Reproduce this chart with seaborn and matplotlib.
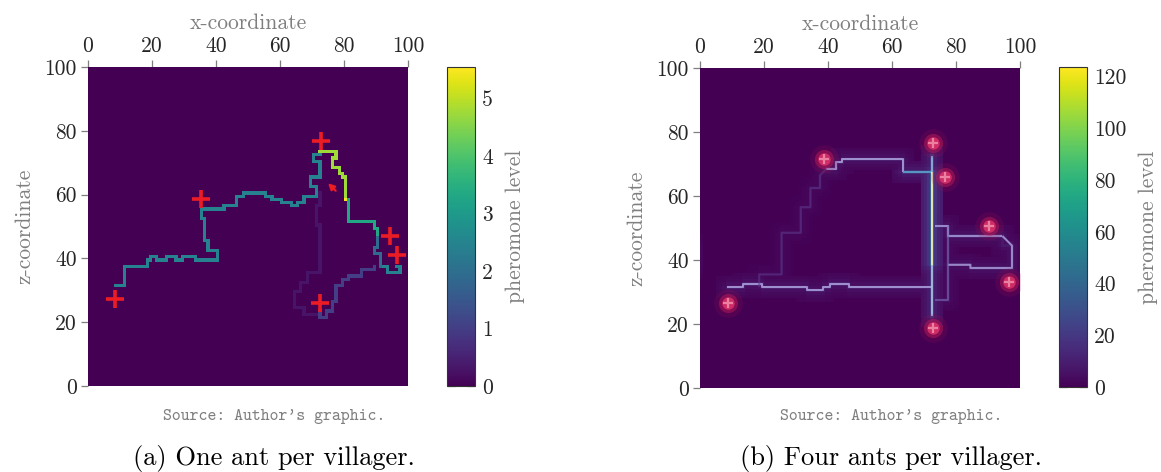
import numpy as np
import matplotlib
matplotlib.use("Agg")
import matplotlib.pyplot as plt
import seaborn as sns

# ---- data (grid cells, x / z) ----
# (a) one ant per villager: pheromone trails as step paths + level
a_teal = [(8, 31), (11, 31), (11, 37), (18, 37), (18, 39), (19, 39), (19, 40), (21, 40),
          (21, 39), (24, 39), (24, 40), (27, 40), (27, 39), (29, 39), (29, 40), (33, 40),
          (33, 39), (40, 39), (40, 42), (37, 42), (37, 45), (36, 45), (36, 52), (35, 52),
          (35, 55), (42, 55), (42, 56), (46, 56), (46, 59), (48, 59), (48, 60), (55, 60),
          (55, 59), (57, 59), (57, 58), (60, 58), (60, 57), (63, 57), (63, 56), (65, 56),
          (65, 57), (67, 57), (67, 59), (71, 59), (71, 62), (69, 62), (69, 65), (72, 65),
          (72, 70), (70, 70), (70, 72), (72, 72)]
a_yellow = [(72, 73), (77, 73), (77, 71), (76, 71), (76, 68), (78, 68), (78, 66), (79, 66),
            (79, 65), (80, 65), (80, 59)]
a_peak = [(80, 58), (80, 58)]
a_green = [(81, 58), (81, 51), (89, 51), (89, 49), (90, 49), (90, 47)]
a_blue = [(90, 46), (90, 43), (89, 43), (89, 41), (91, 41), (91, 37)]
a_teal_end = [(92, 37), (93, 37), (93, 35), (97, 35), (97, 37), (96, 37)]
a_dark = [(89, 37), (89, 36), (85, 36), (85, 34), (81, 34), (81, 33), (79, 33), (79, 31),
          (77, 31), (77, 26), (76, 26), (76, 23), (74, 23), (74, 21), (72, 21), (72, 23)]
a_faint = [(71, 22), (67, 22), (67, 24), (64, 24), (64, 29), (66, 29), (66, 32), (68, 32),
           (68, 35), (72, 35), (72, 50), (71, 50), (71, 56), (72, 56), (72, 60)]
a_paths = [a_teal, a_yellow, a_peak, a_green, a_blue, a_teal_end, a_dark, a_faint]
a_levels = [2.45, 4.75, 5.55, 3.3, 1.9, 2.45, 1.0, 0.3]

a_vill_x = [8.4, 35.2, 72.7, 72.5, 94.4, 96.5]
a_vill_z = [27.3, 58.7, 76.7, 26.0, 47.0, 41.0]
a_ant_head = (74.4, 64.2)
a_ant_tail = (78.0, 60.6)

# (b) four ants per villager
b_low = [(8, 31), (13, 31), (13, 32), (19, 32), (19, 31), (33, 31), (33, 30), (38, 30),
         (38, 31), (40, 31), (40, 32), (46, 32), (46, 31), (72, 31)]
b_top = [(39, 68), (42, 68), (42, 70), (44, 70), (44, 71), (63, 71), (63, 67)]
b_top_end = [(63, 67), (72, 67)]
b_trunk = [(72, 38), (72, 67)]
b_trunk_lo = [(72, 22), (72, 38)]
b_trunk_hi = [(72, 67), (72, 72)]
b_right1 = [(73, 50), (77, 50), (77, 47), (94, 47)]
b_right2 = [(77, 38), (84, 38), (84, 37), (97, 37), (97, 44), (94, 47)]
b_side = [(77, 50), (77, 27), (73, 27)]
b_stair = [(18, 31), (18, 35), (25, 35), (25, 48), (31, 48), (31, 56), (34, 56), (34, 62),
           (37, 62), (37, 66), (39, 68)]
b_paths = [b_low, b_top, b_top_end, b_trunk, b_trunk_lo, b_trunk_hi, b_right1, b_right2,
           b_side, b_stair]
b_levels = [30, 32, 50, 124, 60, 60, 30, 26, 18, 10]
b_colors = ["#a89cda", "#a89cda", "#58a2c8", "#ecebb6", "#a9c0e2", "#8fb0dc", "#a89cda",
            "#a89cda", "#7e6cb8", "#5e3a8e"]
b_alphas = [0.9, 0.9, 0.9, 0.95, 0.9, 0.9, 0.85, 0.85, 0.6, 0.55]

b_vill_x = [8.6, 38.9, 72.8, 76.5, 90.4, 96.7, 72.8]
b_vill_z = [26.7, 71.5, 76.7, 65.8, 50.6, 33.2, 18.6]

cbar_a_ticks = [0, 1, 2, 3, 4, 5]
cbar_b_ticks = [0, 20, 40, 60, 80, 100, 120]
axis_ticks = [0, 20, 40, 60, 80, 100]


def rasterize(paths, levels, n=100):
    grid = np.zeros((n, n))
    for verts, lev in zip(paths, levels):
        for (x0, z0), (x1, z1) in zip(verts[:-1], verts[1:]):
            for x in range(min(x0, x1), max(x0, x1) + 1):
                grid[z0, x] = max(grid[z0, x], lev)
            for z in range(min(z0, z1), max(z0, z1) + 1):
                grid[z, x1] = max(grid[z, x1], lev)
    return grid


def halo(grid, r=3, w=0.3):
    out = np.zeros_like(grid)
    for dz in range(-r, r + 1):
        for dx in range(-r, r + 1):
            f = w / (1 + abs(dx) + abs(dz))
            out = np.maximum(out, f * np.roll(np.roll(grid, dz, 0), dx, 1))
    return out


grid_a = rasterize(a_paths, a_levels)
grid_b = halo(rasterize(b_paths, b_levels))

sns.set_theme(style="white")
plt.rcParams["font.family"] = ["cmr10", "DejaVu Serif"]
plt.rcParams["axes.formatter.use_mathtext"] = True

W, H = 1161, 472
fig = plt.figure(figsize=(W / 100, H / 100), dpi=100)


def box(l, t, r, b):
    return [l / W, 1 - b / H, (r - l) / W, (b - t) / H]


ax_a = fig.add_axes(box(88, 67, 408, 386))
cax_a = fig.add_axes(box(447, 67, 475, 386))
ax_b = fig.add_axes(box(700, 68, 1020, 388))
cax_b = fig.add_axes(box(1059, 67, 1087, 387))

gray = "#7f7f7f"
fs = 15.5

for ax, cax, grid, vmax, cticks in [
        (ax_a, cax_a, grid_a, 5.55, cbar_a_ticks),
        (ax_b, cax_b, grid_b, 123.7, cbar_b_ticks)]:
    sns.heatmap(grid, ax=ax, cmap="viridis", vmin=0, vmax=vmax, cbar_ax=cax,
                xticklabels=False, yticklabels=False, rasterized=True)
    ax.set_ylim(0, 100)
    ax.set_xlim(0, 100)
    ax.xaxis.tick_top()
    ax.xaxis.set_label_position("top")
    ax.set_xticks(axis_ticks)
    ax.set_xticklabels([str(t) for t in axis_ticks], fontsize=fs)
    ax.set_yticks(axis_ticks)
    ax.set_yticklabels([str(t) for t in axis_ticks], fontsize=fs)
    ax.tick_params(axis="both", length=5, width=0.9, color=gray, pad=3,
                   top=True, left=True, bottom=False, labelbottom=False)
    ax.set_xlabel("x-coordinate", fontsize=fs, color=gray, labelpad=5)
    ax.set_ylabel("z-coordinate", fontsize=fs, color=gray, labelpad=7)
    for s in ax.spines.values():
        s.set_visible(False)

    cbar = ax.collections[0].colorbar
    cbar.set_ticks(cticks)
    cbar.set_ticklabels([str(t) for t in cticks])
    cax.tick_params(direction="in", left=True, right=True, length=6, width=0.9,
                    color=gray, labelsize=fs, pad=5)
    cbar.outline.set_visible(True)
    cbar.outline.set_edgecolor("#333333")
    cbar.outline.set_linewidth(0.8)
    cbar.set_label("pheromone level", fontsize=fs, color=gray, labelpad=9)

# (a) villagers and the ant
ax_a.scatter(a_vill_x, a_vill_z, marker="+", s=150, linewidths=2.6, color="#ec1c24", zorder=5)
ax_a.annotate("", xy=a_ant_head, xytext=a_ant_tail,
              arrowprops=dict(arrowstyle="-|>", color="#ec1c24", lw=1.6, mutation_scale=9))

# (b) trails and glowing villagers
for verts, col, al in zip(b_paths, b_colors, b_alphas):
    xs = [v[0] + 0.5 for v in verts]
    zs = [v[1] + 0.5 for v in verts]
    ax_b.plot(xs, zs, color=col, lw=1.5, alpha=al, solid_capstyle="butt", zorder=3)
ax_b.scatter(b_vill_x, b_vill_z, s=420, color="#a0104e", alpha=0.18, linewidths=0, zorder=4)
ax_b.scatter(b_vill_x, b_vill_z, s=190, color="#c81c55", alpha=0.45, linewidths=0, zorder=4)
ax_b.scatter(b_vill_x, b_vill_z, s=80, color="#e0346c", alpha=0.8, linewidths=0, zorder=4)
ax_b.scatter(b_vill_x, b_vill_z, marker="+", s=45, linewidths=1.6, color="#f290ac",
             alpha=0.85, zorder=5)

# captions
for cx, cap in [(274, "(a) One ant per villager."), (891, "(b) Four ants per villager.")]:
    fig.text(cx / W, 1 - 417 / H, "Source: Author's graphic.", ha="center", va="center",
             fontsize=12.2, color=gray, family=["cmtt10", "DejaVu Sans Mono"])
    fig.text(cx / W, 1 - 458 / H, cap, ha="center", va="center", fontsize=19, color="black")

fig.savefig("out.png", dpi=100)
